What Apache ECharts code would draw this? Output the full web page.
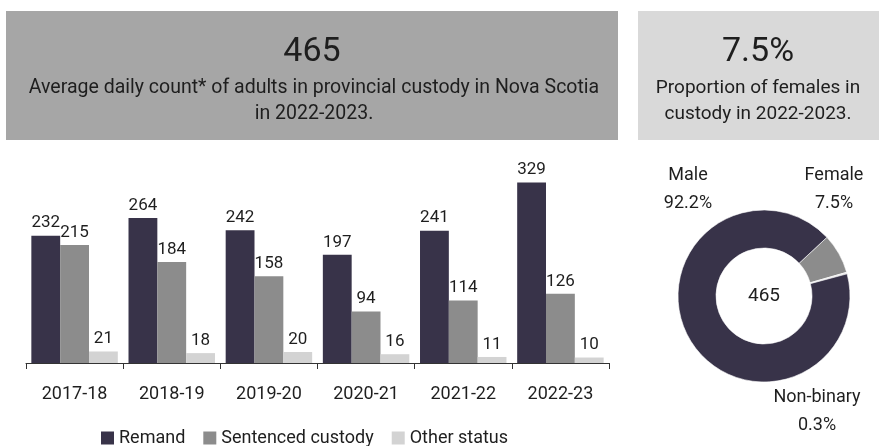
<!DOCTYPE html>
<html>
<head>
<meta charset="utf-8">
<script src="https://cdn.jsdelivr.net/npm/echarts@6/dist/echarts.min.js"></script>
<style>
  html, body { margin: 0; padding: 0; background: #fff; }
  #main { width: 884px; height: 446px; }
</style>
</head>
<body>
<div id="main"></div>
<script>
var years = ['2017-18', '2018-19', '2019-20', '2020-21', '2021-22', '2022-23'];
var remand = [232, 264, 242, 197, 241, 329];
var sentenced = [215, 184, 158, 94, 114, 126];
var otherStatus = [21, 18, 20, 16, 11, 10];

var genderNames = ['Female', 'Non-binary', 'Male'];
var genderPct = [7.5, 0.3, 92.2];

var totalCount = 465;
var femalePct = '7.5%';

var FONT = "Roboto, 'Liberation Sans', sans-serif";
var TXT = '#1e1e1e';
var C_REMAND = '#383349';
var C_SENT = '#8c8c8c';
var C_OTHER = '#d3d3d3';

var myChart = echarts.init(document.getElementById('main'));

// where the donut labels sit
var pieLabelPos = {
    'Female': [834, 189],
    'Non-binary': [817, 411],
    'Male': [688, 189]
};

var option = {
    animation: false,
    textStyle: { fontFamily: FONT },
    graphic: [
        { type: 'rect', shape: { x: 6, y: 11, width: 612, height: 129 }, style: { fill: '#a6a6a6' } },
        { type: 'rect', shape: { x: 638, y: 11, width: 241, height: 129 }, style: { fill: '#d9d9d9' } },
        { type: 'text', x: 312, y: 52, style: { text: String(totalCount), font: '34px ' + FONT, fill: TXT, align: 'center', verticalAlign: 'middle' } },
        { type: 'text', x: 314, y: 101, style: { text: 'Average daily count* of adults in provincial custody in Nova Scotia\nin 2022-2023.', font: '19.5px ' + FONT, fill: TXT, align: 'center', verticalAlign: 'middle', lineHeight: 26 } },
        { type: 'text', x: 758, y: 52, style: { text: femalePct, font: '34px ' + FONT, fill: TXT, align: 'center', verticalAlign: 'middle' } },
        { type: 'text', x: 758, y: 101, style: { text: 'Proportion of females in\ncustody in 2022-2023.', font: '19px ' + FONT, fill: TXT, align: 'center', verticalAlign: 'middle', lineHeight: 26 } },
        { type: 'text', x: 764, y: 296, style: { text: String(totalCount), font: '19px ' + FONT, fill: TXT, align: 'center', verticalAlign: 'middle' } }
    ],
    legend: {
        left: 96,
        top: 424,
        itemWidth: 13,
        itemHeight: 13,
        itemGap: 18,
        icon: 'rect',
        data: ['Remand', 'Sentenced custody', 'Other status'],
        textStyle: { fontSize: 18, color: TXT, fontFamily: FONT }
    },
    grid: { left: 26, right: 275, top: 143.4, bottom: 83 },
    xAxis: {
        type: 'category',
        data: years,
        axisLine: { lineStyle: { color: '#333', width: 1 } },
        axisTick: { show: true, length: 6, lineStyle: { color: '#333' } },
        axisLabel: { interval: 0, fontSize: 18, color: TXT, margin: 22, fontFamily: FONT }
    },
    yAxis: {
        type: 'value',
        min: 0,
        max: 400,
        show: false,
        splitLine: { show: false }
    },
    series: [
        {
            name: 'Remand', type: 'bar', data: remand,
            barGap: '0%', barCategoryGap: '11%',
            itemStyle: { color: C_REMAND },
            label: { show: true, position: 'top', distance: 4, fontSize: 17, color: TXT, fontFamily: FONT }
        },
        {
            name: 'Sentenced custody', type: 'bar', data: sentenced,
            itemStyle: { color: C_SENT },
            label: { show: true, position: 'top', distance: 4, fontSize: 17, color: TXT, fontFamily: FONT }
        },
        {
            name: 'Other status', type: 'bar', data: otherStatus,
            itemStyle: { color: C_OTHER },
            label: { show: true, position: 'top', distance: 4, fontSize: 17, color: TXT, fontFamily: FONT }
        },
        {
            type: 'pie',
            center: [764, 296],
            radius: [48, 86],
            startAngle: 43,
            clockwise: true,
            silent: true,
            avoidLabelOverlap: false,
            data: genderNames.map(function (n, i) {
                var col = n === 'Male' ? C_REMAND : (n === 'Female' ? C_SENT : '#e6e6e6');
                return { name: n, value: genderPct[i], itemStyle: { color: col } };
            }),
            itemStyle: { borderColor: '#fff', borderWidth: 0.6 },
            label: {
                show: true,
                formatter: function (p) { return p.name + '\n' + genderPct[p.dataIndex] + '%'; },
                fontSize: 18,
                lineHeight: 28,
                color: TXT,
                fontFamily: FONT,
                align: 'center'
            },
            labelLine: { show: false },
            labelLayout: function (params) {
                var pos = pieLabelPos[genderNames[params.dataIndex]];
                return { x: pos[0], y: pos[1], align: 'center', verticalAlign: 'middle', hideOverlap: false };
            }
        }
    ]
};

myChart.setOption(option);
</script>
</body>
</html>
